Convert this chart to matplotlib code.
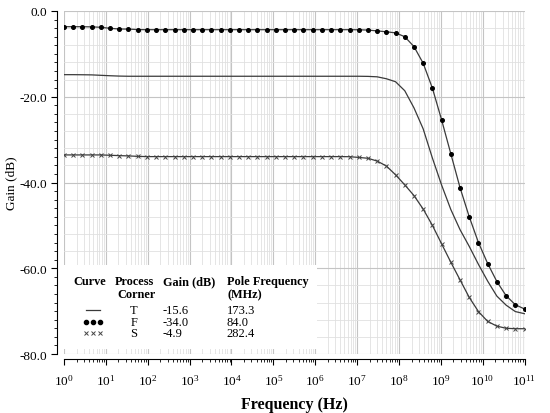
import numpy as np
import matplotlib
matplotlib.use("Agg")
import matplotlib.pyplot as plt
from matplotlib.ticker import LogLocator, MultipleLocator, NullFormatter
from matplotlib.patches import Rectangle

plt.rcParams['font.family'] = 'Liberation Serif'
plt.rcParams['font.size'] = 9
plt.rcParams['mathtext.fontset'] = 'custom'
plt.rcParams['mathtext.rm'] = 'Liberation Serif'
plt.rcParams['mathtext.it'] = 'Liberation Serif:italic'
plt.rcParams['mathtext.bf'] = 'Liberation Serif:bold'

# frequency sample grid: exponents 0 .. 11 (decades)
freq_exp = np.linspace(0, 11, 51)
freq = 10 ** freq_exp

# curve with dots
gain_dots = [-3.66, -3.66, -3.67, -3.70, -3.80, -4.04, -4.20, -4.22, -4.33, -4.36,
             -4.36, -4.36, -4.36, -4.36, -4.36, -4.36, -4.36, -4.36, -4.36, -4.36, -4.36,
             -4.36, -4.36, -4.36, -4.36, -4.36, -4.36, -4.36, -4.36, -4.36, -4.36, -4.36,
             -4.38, -4.45, -4.64, -4.85, -5.10, -6.00, -8.30, -12.2, -18.0, -25.4,
             -33.3, -41.2, -48.0, -54.0, -58.9, -63.1, -66.4, -68.5, -69.5]

# plain line curve
gain_line = [-14.85, -14.85, -14.87, -14.90, -15.00, -15.10, -15.18, -15.22,
             -15.22, -15.22, -15.22, -15.22, -15.22, -15.22, -15.22, -15.22, -15.22, -15.22,
             -15.22, -15.22, -15.22, -15.22, -15.22, -15.22, -15.22, -15.22, -15.22, -15.22,
             -15.22, -15.22, -15.22, -15.22, -15.22,
             -15.25, -15.35, -15.80, -16.5, -18.6, -22.6, -27.5, -34.3, -40.6, -46.3,
             -51.0, -54.9, -59.1, -63.0, -66.5, -68.6, -70.1, -70.6]

# curve with crosses
gain_cross = [-33.57, -33.57, -33.57, -33.57, -33.57, -33.65, -33.73, -33.80, -33.90,
              -33.96, -33.96, -33.96, -33.96, -33.96, -33.96, -33.96, -33.96, -33.96, -33.96,
              -33.96, -33.96, -33.96, -33.96, -33.96, -33.96, -33.96, -33.96, -33.96, -33.96,
              -33.96, -33.96,
              -33.98, -34.15, -34.35, -35.0, -36.15, -38.2, -40.55, -43.05, -46.2, -50.0,
              -54.3, -58.6, -62.7, -66.8, -70.1, -72.4, -73.5, -74.0, -74.1, -74.1]

# legend table
table_corner = ['T', 'F', 'S']
table_gain = ['-15.6', '-34.0', '-4.9']
table_pole = ['173.3', '84.0', '282.4']

fig = plt.figure(figsize=(5.5, 4.14), dpi=100)
ax = fig.add_axes([64/550, 1 - 355/414, (524.5 - 64)/550, (355 - 12)/414])

ax.set_xscale('log')
ax.set_xlim(1, 1e11)
ax.set_ylim(-80, 0)

# grid
for d in range(11):
    for m in range(2, 10):
        ax.axvline(m * 10**d, color='#e0e0e0', lw=0.6, zorder=0)
for d in range(0, 12):
    ax.axvline(10**d, color='#c4c4c4', lw=0.8, zorder=0)
for yv in range(-76, 0, 4):
    ax.axhline(yv, color='#e0e0e0', lw=0.6, zorder=0)
for yv in [-80, -60, -40, -20, 0]:
    ax.axhline(yv, color='#c4c4c4', lw=0.8, zorder=0)

lc = '#3a3a3a'
ax.plot(freq, gain_line, color=lc, lw=0.9, zorder=3)
ax.plot(freq, gain_dots, color=lc, lw=0.9, marker='o', ms=2.6, mfc='black', mec='black', zorder=3)
ax.plot(freq, gain_cross, color=lc, lw=0.9, marker='x', ms=3.0, mew=0.7, mec='#444444', zorder=3)

# spines
for s in ['top', 'right']:
    ax.spines[s].set_visible(False)
ax.spines['left'].set_position(('outward', 5))
ax.spines['bottom'].set_position(('outward', 3.6))
ax.spines['left'].set_bounds(-80, 0)
ax.spines['bottom'].set_bounds(1, 1e11)
ax.spines['left'].set_linewidth(0.8)
ax.spines['bottom'].set_linewidth(0.8)

ax.set_yticks([0, -20, -40, -60, -80])
ax.set_yticklabels(['0.0', '-20.0', '-40.0', '-60.0', '-80.0'])
ax.yaxis.set_minor_locator(MultipleLocator(2))

ax.xaxis.set_major_locator(LogLocator(base=10, numticks=20))
ax.xaxis.set_minor_locator(LogLocator(base=10, subs=np.arange(2, 10), numticks=20))
ax.xaxis.set_minor_formatter(NullFormatter())

ax.tick_params(axis='both', which='major', direction='out', length=4, width=0.8, labelsize=9.5)
ax.tick_params(axis='both', which='minor', direction='out', length=2.5, width=0.6)
ax.tick_params(axis='x', which='major', pad=6)

ax.set_xlabel('Frequency (Hz)', fontsize=11.5, fontweight='bold', labelpad=6)
ax.set_ylabel('Gain (dB)', fontsize=9.5, labelpad=1)

# legend table box
ax.add_patch(Rectangle((0.0, 0.015), 0.55, 0.245, transform=ax.transAxes,
                       facecolor='white', edgecolor='none', zorder=4))

def px(x, y):
    # figure pixel -> axes fraction
    return (x - 64) / 460.5, (355 - y) / 343

hdr = dict(fontsize=8.8, fontweight='bold', transform=ax.transAxes, zorder=5, va='center')
ax.text(*px(73, 282), 'Curve', **hdr)
ax.text(*px(115, 282), 'Process', **hdr)
ax.text(*px(117, 295), 'Corner', **hdr)
ax.text(*px(163, 282), 'Gain (dB)', **hdr)
ax.text(*px(227, 282), 'Pole Frequency', **hdr)
ax.text(*px(227, 295), '(MHz)', **hdr)

rows_y = [310.5, 322.5, 334]
body = dict(fontsize=9, transform=ax.transAxes, zorder=5, va='center')
for i, yy in enumerate(rows_y):
    ax.text(*px(134, yy), table_corner[i], ha='center', **body)
    ax.text(*px(162.5, yy), table_gain[i], ha='left', **body)
    ax.text(*px(226.5, yy), table_pole[i], ha='left', **body)

sx = [px(86, 0)[0], px(93, 0)[0], px(100, 0)[0]]
ax.plot([sx[0], sx[2]], [px(0, rows_y[0])[1]] * 2, color=lc, lw=0.9,
        transform=ax.transAxes, zorder=5, clip_on=False)
ax.plot(sx, [px(0, rows_y[1])[1]] * 3, ls='none', marker='o', ms=3.0, color='black',
        transform=ax.transAxes, zorder=5, clip_on=False)
ax.plot(sx, [px(0, rows_y[2])[1]] * 3, ls='none', marker='x', ms=3.0, mew=0.7, color='#444444',
        transform=ax.transAxes, zorder=5, clip_on=False)

fig.savefig('out.png', dpi=100, facecolor='white')
